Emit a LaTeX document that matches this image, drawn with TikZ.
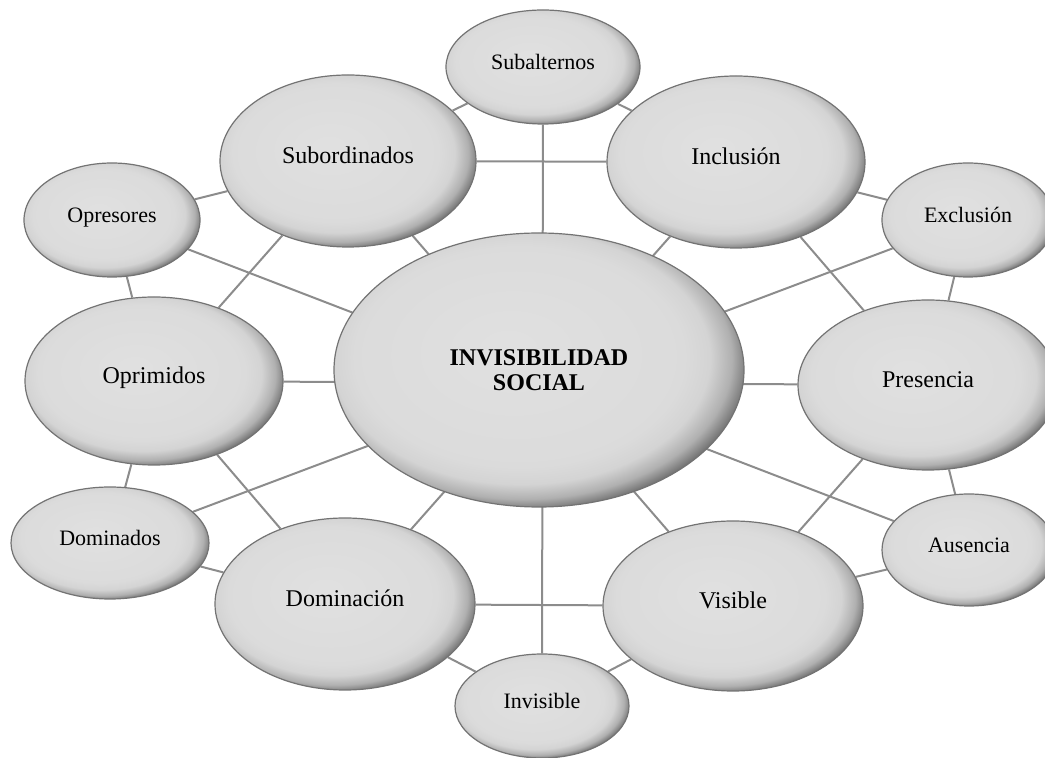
\documentclass[tikz,border=0pt]{standalone}
\usepackage{fontspec}
\setmainfont{Liberation Serif}
\usetikzlibrary{shapes.geometric,backgrounds}

\pgfdeclareradialshading{burbuja}{\pgfpoint{-4bp}{4bp}}{%
  color(0bp)=(gray!24); color(20bp)=(gray!28); color(23bp)=(gray!34);
  color(25.5bp)=(gray!62); color(28bp)=(black!62); color(50bp)=(black!62)}

\tikzset{
  bubble/.style={ellipse, shading=burbuja, draw=black!55, line width=0.6pt,
    text=black, inner sep=0pt, text height=9pt, text depth=6pt,
    font=\fontsize{12}{14}\selectfont},
  smallbubble/.style={bubble, font=\fontsize{11}{13}\selectfont},
  link/.style={draw=black!45, line width=1pt}
}

\begin{document}
\begin{tikzpicture}[x=0.5pt, y=-0.5pt]
  \useasboundingbox (0,0) rectangle (1045,758);

  \node[bubble, text height=, text depth=, align=center, minimum width=205pt, minimum height=137pt,
        font=\fontsize{12}{12.5}\selectfont\bfseries] (social) at (539,370) {INVISIBILIDAD\\SOCIAL};

  \node[smallbubble, minimum width=97pt, minimum height=57pt] (subalternos) at (543,67) {Subalternos};
  \node[bubble, minimum width=128pt, minimum height=86pt] (subordinados) at (348,161) {Subordinados};
  \node[bubble, minimum width=129pt, minimum height=86pt] (inclusion) at (736,162) {Inclusión};
  \node[smallbubble, minimum width=88pt, minimum height=57pt] (opresores) at (112,220) {Opresores};
  \node[smallbubble, minimum width=86pt, minimum height=57pt] (exclusion) at (968,220) {Exclusión};
  \node[bubble, minimum width=129pt, minimum height=84pt] (oprimidos) at (154,381) {Oprimidos};
  \node[bubble, minimum width=130pt, minimum height=85pt] (presencia) at (928,385) {Presencia};
  \node[smallbubble, minimum width=99pt, minimum height=56pt] (dominados) at (110,543) {Dominados};
  \node[smallbubble, minimum width=87pt, minimum height=56pt] (ausencia) at (969,550) {Ausencia};
  \node[bubble, minimum width=130pt, minimum height=86pt] (dominacion) at (345,604) {Dominación};
  \node[bubble, minimum width=130pt, minimum height=85pt] (visible) at (733,606) {Visible};
  \node[smallbubble, minimum width=87pt, minimum height=52pt] (invisible) at (542,706) {Invisible};

  % Enlaces detrás de las burbujas
  \begin{scope}[on background layer]
    \path[link] (subalternos) edge (invisible)
      (subordinados) edge (inclusion)
      (oprimidos) edge (presencia)
      (dominacion) edge (visible)
      (opresores) edge (ausencia)
      (dominados) edge (exclusion)
      (subordinados) edge (visible)
      (inclusion) edge (dominacion)
      (subalternos) edge (subordinados)
      (subalternos) edge (inclusion)
      (opresores) edge (subordinados)
      (opresores) edge (oprimidos)
      (subordinados) edge (oprimidos)
      (inclusion) edge (exclusion)
      (inclusion) edge (presencia)
      (exclusion) edge (presencia)
      (oprimidos) edge (dominados)
      (oprimidos) edge (dominacion)
      (dominados) edge (dominacion)
      (presencia) edge (ausencia)
      (presencia) edge (visible)
      (ausencia) edge (visible)
      (invisible) edge (dominacion)
      (invisible) edge (visible);
  \end{scope}
\end{tikzpicture}
\end{document}
